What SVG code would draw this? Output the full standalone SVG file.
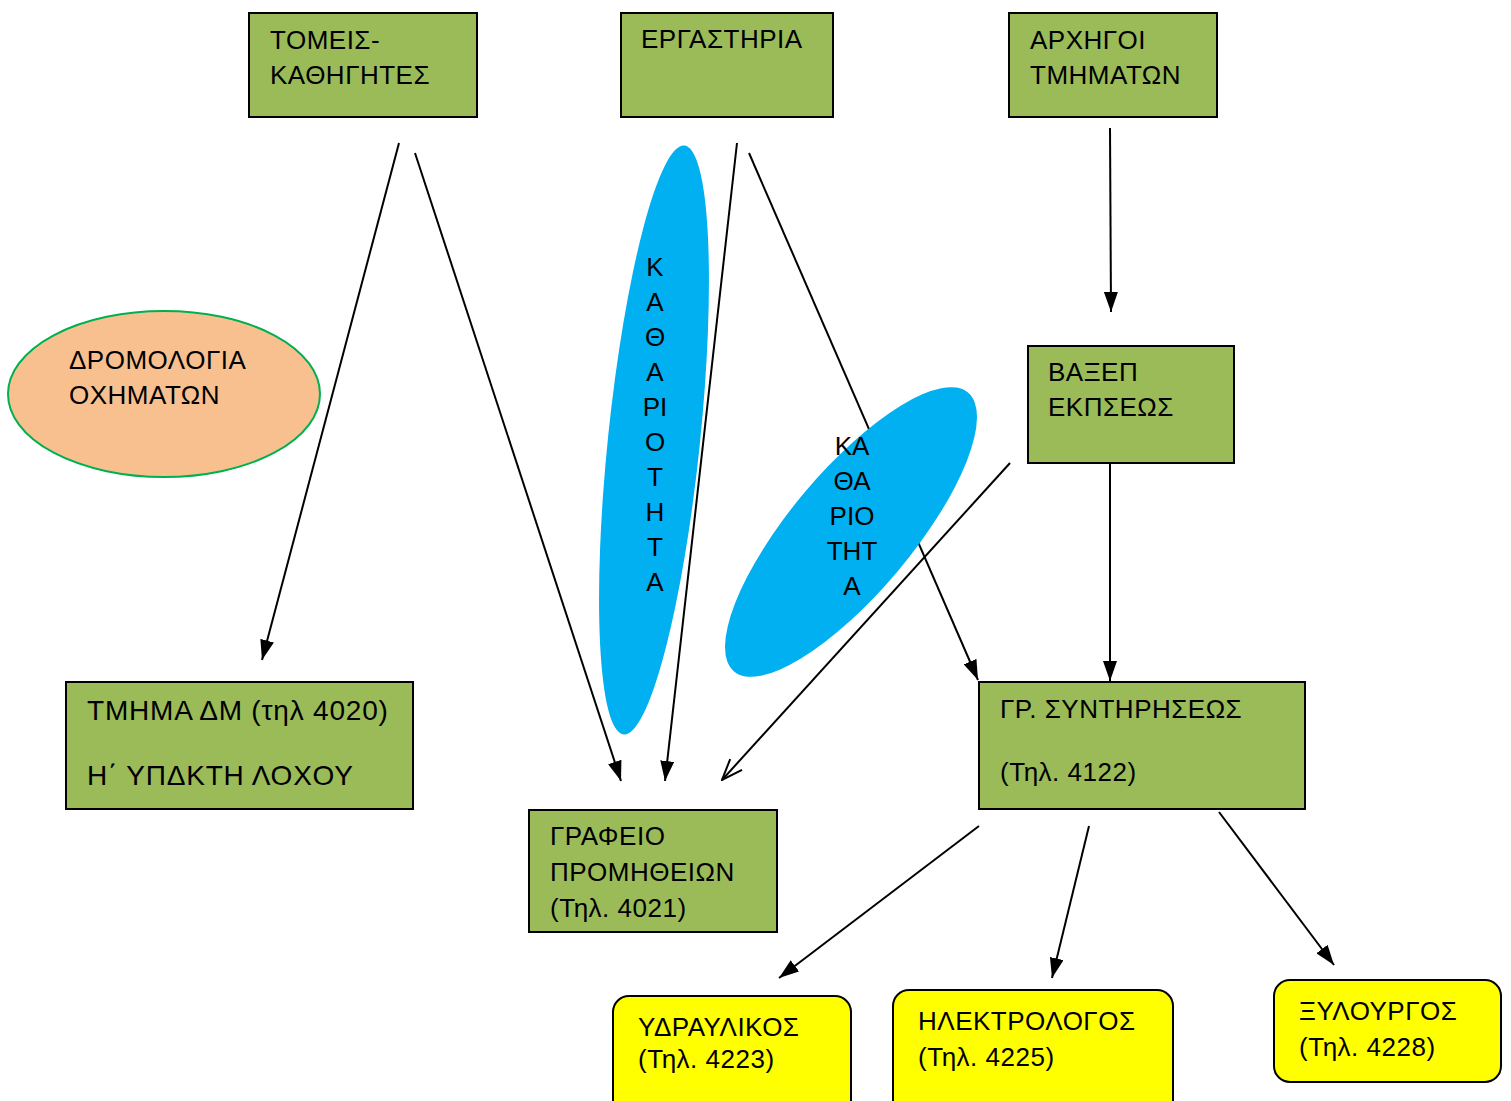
<svg xmlns="http://www.w3.org/2000/svg" width="1511" height="1101" viewBox="0 0 1511 1101">
<defs>
<style>
.g{fill:#9BBB59;stroke:#000;stroke-width:2}
.y{fill:#FFFF00;stroke:#000;stroke-width:2}
.t{font-family:"Liberation Sans",Arial,sans-serif;font-size:26px;letter-spacing:0.5px;fill:#000}
.b{font-size:28px;letter-spacing:0.8px}
.c{stroke:#000;stroke-width:2;fill:none}
.m{text-anchor:middle;letter-spacing:0}
</style>
<marker id="ah" viewBox="0 0 20 14" refX="20" refY="7" markerWidth="20" markerHeight="14" markerUnits="userSpaceOnUse" orient="auto">
<path d="M0,0 L20,7 L0,14 Z" fill="#000"/>
</marker>
<marker id="oh" viewBox="0 0 22 18" refX="21" refY="9" markerWidth="22" markerHeight="18" markerUnits="userSpaceOnUse" orient="auto">
<path d="M0,1 L21,9 L0,17" fill="none" stroke="#000" stroke-width="2"/>
</marker>
</defs>
<rect width="1511" height="1101" fill="#fff"/>
<g id="connectors">
<line class="c" x1="399" y1="143" x2="262" y2="660" marker-end="url(#ah)"/>
<line class="c" x1="415" y1="153" x2="621" y2="781" marker-end="url(#ah)"/>
<line class="c" x1="737" y1="143" x2="665" y2="781" marker-end="url(#ah)"/>
<line class="c" x1="749" y1="153" x2="978" y2="680" marker-end="url(#ah)"/>
<line class="c" x1="1110" y1="128" x2="1111" y2="312" marker-end="url(#ah)"/>
<line class="c" x1="1010" y1="463" x2="722" y2="780" marker-end="url(#oh)"/>
<line class="c" x1="1110" y1="463" x2="1110" y2="681" marker-end="url(#ah)"/>
<line class="c" x1="979" y1="826" x2="779" y2="978" marker-end="url(#ah)"/>
<line class="c" x1="1089" y1="826" x2="1052" y2="978" marker-end="url(#ah)"/>
<line class="c" x1="1219" y1="812" x2="1334" y2="965" marker-end="url(#ah)"/>
</g>
<g id="tomeis"><rect class="g" x="249" y="13" width="228" height="104"/><text class="t" x="270" y="49">ΤΟΜΕΙΣ-</text><text class="t" x="270" y="84">ΚΑΘΗΓΗΤΕΣ</text></g>
<g id="ergastiria"><rect class="g" x="621" y="13" width="212" height="104"/><text class="t" x="641" y="48">ΕΡΓΑΣΤΗΡΙΑ</text></g>
<g id="archigoi"><rect class="g" x="1009" y="13" width="208" height="104"/><text class="t" x="1030" y="49">ΑΡΧΗΓΟΙ</text><text class="t" x="1030" y="84">ΤΜΗΜΑΤΩΝ</text></g>
<g id="vaxep"><rect class="g" x="1028" y="346" width="206" height="117"/><text class="t" x="1048" y="381">ΒΑΞΕΠ</text><text class="t" x="1048" y="416">ΕΚΠΣΕΩΣ</text></g>
<g id="dromologia"><ellipse cx="164" cy="394" rx="156" ry="83" fill="#F8C08F" stroke="#00B050" stroke-width="2"/><text class="t" x="69" y="369">ΔΡΟΜΟΛΟΓΙΑ</text><text class="t" x="69" y="404">ΟΧΗΜΑΤΩΝ</text></g>
<g id="katharioтita1"><ellipse cx="654" cy="440" rx="46" ry="296" transform="rotate(5.9 654 440)" fill="#00B0F0"/>
<text class="t m" x="655" y="276">Κ</text><text class="t m" x="655" y="311">Α</text><text class="t m" x="655" y="346">Θ</text><text class="t m" x="655" y="381">Α</text><text class="t m" x="655" y="416">ΡΙ</text><text class="t m" x="655" y="451">Ο</text><text class="t m" x="655" y="486">Τ</text><text class="t m" x="655" y="521">Η</text><text class="t m" x="655" y="556">Τ</text><text class="t m" x="655" y="591">Α</text></g>
<g id="katharioтita2"><ellipse cx="851" cy="532" rx="182" ry="61" transform="rotate(-50 851 532)" fill="#00B0F0"/>
<text class="t m" x="852" y="455">ΚΑ</text><text class="t m" x="852" y="490">ΘΑ</text><text class="t m" x="852" y="525">ΡΙΟ</text><text class="t m" x="852" y="560">ΤΗΤ</text><text class="t m" x="852" y="595">Α</text></g>
<g id="tmima"><rect class="g" x="66" y="682" width="347" height="127"/><text class="t b" x="87" y="720">ΤΜΗΜΑ ΔΜ (τηλ 4020)</text><text class="t b" x="87" y="785">Η΄ ΥΠΔΚΤΗ ΛΟΧΟΥ</text></g>
<g id="grafeio"><rect class="g" x="529" y="810" width="248" height="122"/><text class="t" x="550" y="845">ΓΡΑΦΕΙΟ</text><text class="t" x="550" y="881">ΠΡΟΜΗΘΕΙΩΝ</text><text class="t" x="550" y="917">(Τηλ. 4021)</text></g>
<g id="syntirisi"><rect class="g" x="979" y="682" width="326" height="127"/><text class="t" x="1000" y="718">ΓΡ. ΣΥΝΤΗΡΗΣΕΩΣ</text><text class="t" x="1000" y="781">(Τηλ. 4122)</text></g>
<g id="ydravlikos"><rect class="y" x="613" y="996" width="238" height="120" rx="16"/><text class="t" x="638" y="1036">ΥΔΡΑΥΛΙΚΟΣ</text><text class="t" x="638" y="1068">(Τηλ. 4223)</text></g>
<g id="ilektrologos"><rect class="y" x="893" y="990" width="280" height="126" rx="16"/><text class="t" x="918" y="1030">ΗΛΕΚΤΡΟΛΟΓΟΣ</text><text class="t" x="918" y="1066">(Τηλ. 4225)</text></g>
<g id="xylourgos"><rect class="y" x="1274" y="980" width="227" height="102" rx="16"/><text class="t" x="1299" y="1020">ΞΥΛΟΥΡΓΟΣ</text><text class="t" x="1299" y="1056">(Τηλ. 4228)</text></g>
</svg>
